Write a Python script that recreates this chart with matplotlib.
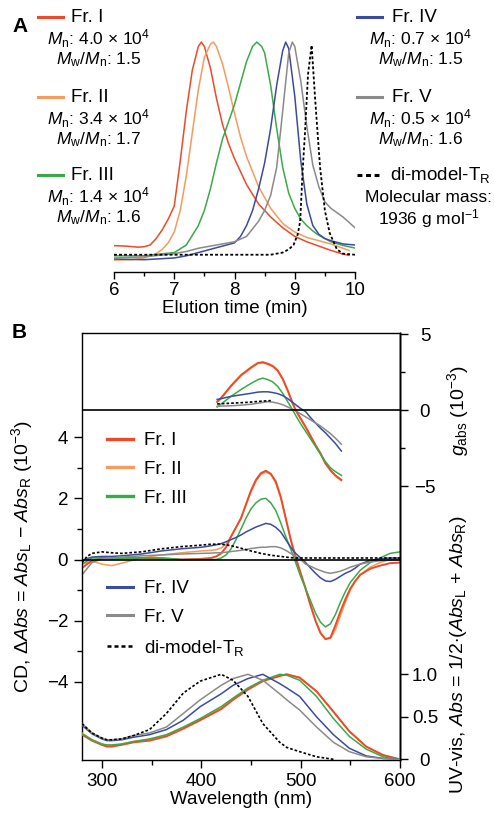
import matplotlib.pyplot as plt
from matplotlib.lines import Line2D
from matplotlib.ticker import FixedLocator, MultipleLocator
import numpy as np

plt.rcParams['font.family'] = ['Liberation Sans', 'DejaVu Sans']
plt.rcParams['mathtext.fontset'] = 'custom'
plt.rcParams['mathtext.rm'] = 'Liberation Sans'
plt.rcParams['mathtext.it'] = 'Liberation Sans:italic'
plt.rcParams['mathtext.bf'] = 'Liberation Sans:bold'
plt.rcParams['axes.linewidth'] = 1.0

c_I = '#ee4a28'
c_II = '#f79a5c'
c_III = '#3aaa48'
c_IV = '#3b4b9f'
c_V = '#8a8a8a'
c_di = 'black'

# ---- A: SEC traces (normalised)
t_I = [6.0, 6.2, 6.4, 6.5, 6.6, 6.7, 6.8, 6.9, 7.0, 7.1, 7.2, 7.3, 7.4, 7.45, 7.5, 7.6, 7.7, 7.8, 7.9, 8.0,
       8.2, 8.4, 8.6, 8.8, 9.0, 9.2, 9.4, 9.6, 9.8, 9.9]
sec_I = [0.057, 0.055, 0.05, 0.052, 0.06, 0.09, 0.13, 0.18, 0.24, 0.45, 0.68, 0.87, 0.98, 1.0, 0.98, 0.88,
         0.74, 0.62, 0.53, 0.46, 0.34, 0.25, 0.19, 0.14, 0.10, 0.075, 0.055, 0.035, 0.018, 0.012]
t_II = [6.0, 6.3, 6.5, 6.7, 6.8, 6.9, 7.0, 7.1, 7.2, 7.3, 7.4, 7.5, 7.6, 7.65, 7.7, 7.8, 7.9, 8.0, 8.1, 8.2,
        8.4, 8.6, 8.8, 9.0, 9.2, 9.4, 9.6, 9.8, 9.9]
sec_II = [-0.01, -0.008, 0.0, 0.02, 0.04, 0.07, 0.12, 0.22, 0.38, 0.58, 0.78, 0.93, 0.99, 1.0, 0.98, 0.9,
          0.79, 0.67, 0.56, 0.47, 0.33, 0.23, 0.16, 0.12, 0.095, 0.08, 0.065, 0.045, 0.035]
t_III = [6.0, 6.5, 7.0, 7.2, 7.4, 7.5, 7.6, 7.7, 7.8, 7.9, 8.0, 8.1, 8.2, 8.3, 8.37, 8.45, 8.5, 8.6, 8.7,
         8.8, 8.9, 9.0, 9.1, 9.2, 9.3, 9.4, 9.6, 9.8, 10.0]
sec_III = [0.01, 0.01, 0.025, 0.06, 0.15, 0.22, 0.32, 0.44, 0.55, 0.63, 0.71, 0.81, 0.91, 0.98, 1.0, 0.98,
           0.95, 0.8, 0.6, 0.42, 0.3, 0.23, 0.18, 0.15, 0.125, 0.105, 0.075, 0.058, 0.046]
t_IV = [6.0, 6.5, 7.0, 7.2, 7.4, 7.6, 7.8, 8.0, 8.1, 8.2, 8.3, 8.4, 8.5, 8.6, 8.7, 8.8, 8.85, 8.9, 9.0,
        9.1, 9.2, 9.3, 9.4, 9.5, 9.6, 9.8, 10.0]
sec_IV = [-0.005, -0.008, 0.0, 0.01, 0.025, 0.04, 0.055, 0.07, 0.1, 0.15, 0.22, 0.32, 0.44, 0.6, 0.8, 0.96,
          1.0, 0.97, 0.75, 0.45, 0.25, 0.15, 0.11, 0.09, 0.08, 0.065, 0.06]
t_V = [6.0, 6.5, 7.0, 7.2, 7.4, 7.6, 7.8, 8.0, 8.2, 8.4, 8.5, 8.6, 8.7, 8.8, 8.9, 8.96, 9.0, 9.1, 9.2,
       9.3, 9.4, 9.5, 9.6, 9.8, 10.0]
sec_V = [0.0, 0.005, 0.02, 0.03, 0.045, 0.055, 0.065, 0.075, 0.1, 0.17, 0.22, 0.29, 0.42, 0.68, 0.95, 1.0,
         0.98, 0.82, 0.61, 0.43, 0.33, 0.26, 0.23, 0.19, 0.14]
t_di = [6.0, 8.6, 8.8, 8.9, 8.98, 9.05, 9.09, 9.13, 9.17, 9.22, 9.28, 9.34, 9.42, 9.5, 9.58, 9.7, 9.8, 10.0]
sec_di = [0.015, 0.015, 0.025, 0.04, 0.06, 0.11, 0.17, 0.4, 0.58, 0.85, 0.985, 0.73, 0.42, 0.22, 0.115,
          0.04, 0.02, 0.015]

# ---- B: CD spectra (10^-3)
wl_cd = [280, 285, 290, 300, 310, 320, 340, 360, 380, 400, 410, 415, 420, 425, 430, 435, 440, 445, 450, 455,
         460, 465, 470, 475, 480, 485, 490, 495, 500, 505, 510, 515, 520, 525, 530, 535, 540, 545, 550, 555,
         560, 570, 580, 590, 600]
cd_I = [-0.28, -0.15, -0.05, 0.05, 0.03, 0.05, 0.05, 0.04, 0.0, 0.02, 0.05, 0.1, 0.2, 0.4, 0.75, 1.05, 1.35,
        1.8, 2.25, 2.6, 2.82, 2.9, 2.8, 2.55, 2.05, 1.35, 0.65, 0.05, -0.45, -0.95, -1.5, -2.0, -2.4, -2.6,
        -2.55, -2.15, -1.7, -1.3, -0.95, -0.7, -0.5, -0.3, -0.2, -0.12, -0.1]
cd_II = [-0.15, -0.1, -0.05, -0.15, -0.2, -0.12, 0.05, 0.15, 0.22, 0.28, 0.3, 0.32, 0.38, 0.5, 0.75, 1.05,
         1.35, 1.78, 2.2, 2.55, 2.78, 2.85, 2.78, 2.5, 2.0, 1.35, 0.68, 0.1, -0.42, -0.95, -1.5, -2.0, -2.4,
         -2.6, -2.58, -2.3, -1.85, -1.4, -1.0, -0.72, -0.5, -0.25, -0.1, 0.0, 0.05]
cd_III = [-0.15, -0.05, 0.05, 0.05, 0.04, 0.03, 0.05, 0.05, 0.0, 0.0, 0.0, 0.0, 0.05, 0.15, 0.35, 0.65, 1.0,
          1.35, 1.65, 1.85, 1.97, 2.0, 1.85, 1.6, 1.2, 0.75, 0.35, -0.1, -0.55, -0.95, -1.35, -1.75, -2.05,
          -2.2, -2.1, -1.8, -1.4, -1.05, -0.75, -0.55, -0.35, -0.1, 0.05, 0.2, 0.25]
cd_IV = [-0.05, 0.03, 0.08, 0.1, 0.1, 0.12, 0.18, 0.28, 0.35, 0.4, 0.45, 0.48, 0.52, 0.58, 0.65, 0.72, 0.8,
         0.9, 0.98, 1.06, 1.12, 1.18, 1.15, 1.05, 0.9, 0.65, 0.4, 0.2, 0.05, -0.1, -0.28, -0.45, -0.6, -0.7,
         -0.72, -0.65, -0.55, -0.45, -0.38, -0.28, -0.15, -0.03, 0.02, 0.05, 0.05]
cd_V = [-0.5, -0.3, -0.1, 0.02, 0.05, 0.08, 0.12, 0.15, 0.18, 0.2, 0.21, 0.22, 0.22, 0.24, 0.26, 0.28, 0.3,
        0.33, 0.36, 0.38, 0.4, 0.4, 0.42, 0.42, 0.38, 0.3, 0.2, 0.1, 0.0, -0.15, -0.22, -0.3, -0.36, -0.42,
        -0.45, -0.42, -0.38, -0.32, -0.25, -0.2, -0.15, -0.08, -0.04, -0.02, 0.0]
cd_di = [-0.1, 0.1, 0.2, 0.25, 0.22, 0.2, 0.25, 0.35, 0.42, 0.47, 0.5, 0.5, 0.5, 0.48, 0.45, 0.41, 0.37,
         0.32, 0.28, 0.24, 0.2, 0.17, 0.14, 0.12, 0.1, 0.08, 0.06, 0.05, 0.05, 0.05, 0.05, 0.05, 0.05, 0.05,
         0.05, 0.05, 0.05, 0.05, 0.05, 0.05, 0.05, 0.05, 0.05, 0.05, 0.05]

# ---- B: g_abs (10^-3)
wl_g = [416, 420, 430, 440, 445, 450, 457, 462, 467, 472, 477, 482, 487, 492, 495, 500, 505, 510, 515, 520,
        525, 530, 535, 541]
g_I = [0.55, 0.8, 1.6, 2.3, 2.55, 2.8, 3.1, 3.15, 3.05, 2.9, 2.6, 2.05, 1.3, 0.45, 0.0, -0.55, -1.1, -1.7,
       -2.3, -2.85, -3.5, -3.95, -4.3, -4.6]
g_II = [0.5, 0.75, 1.55, 2.25, 2.5, 2.75, 3.05, 3.1, 3.0, 2.85, 2.55, 2.0, 1.25, 0.4, -0.05, -0.6, -1.15,
        -1.75, -2.35, -2.9, -3.55, -4.0, -4.35, -4.65]
g_III = [0.2, 0.4, 0.9, 1.35, 1.55, 1.75, 2.0, 2.1, 2.0, 1.85, 1.55, 1.1, 0.55, 0.0, -0.35, -0.9, -1.4, -1.9,
         -2.4, -2.9, -3.4, -3.8, -4.05, -4.3]
g_IV = [0.7, 0.75, 0.9, 1.0, 1.05, 1.1, 1.18, 1.2, 1.2, 1.15, 1.08, 0.95, 0.75, 0.5, 0.35, 0.1, -0.1, -0.5,
        -0.85, -1.2, -1.5, -1.85, -2.2, -2.7]
g_V = [0.25, 0.26, 0.28, 0.32, 0.35, 0.38, 0.45, 0.5, 0.55, 0.52, 0.45, 0.35, 0.2, 0.05, -0.05, -0.25, -0.45,
       -0.65, -0.85, -1.05, -1.3, -1.55, -1.85, -2.25]
wl_g_di = [416, 430, 445, 460, 470]
g_di = [0.4, 0.45, 0.5, 0.58, 0.62]

# ---- B: UV-vis (normalised)
wl_uv = [280, 290, 300, 305, 310, 320, 332, 348, 365, 382, 399, 420, 432, 447, 462, 479, 486, 499, 516, 533,
         549, 566, 583, 600]
uv_I = [0.29, 0.22, 0.17, 0.15, 0.15, 0.17, 0.2, 0.22, 0.27, 0.36, 0.46, 0.59, 0.7, 0.82, 0.92, 0.98, 1.0,
        0.96, 0.8, 0.56, 0.33, 0.15, 0.05, 0.0]
uv_II = [0.31, 0.23, 0.18, 0.16, 0.16, 0.18, 0.21, 0.23, 0.28, 0.37, 0.47, 0.6, 0.71, 0.83, 0.93, 0.985, 1.0,
         0.965, 0.8, 0.56, 0.33, 0.15, 0.05, 0.0]
uv_III = [0.3, 0.23, 0.18, 0.17, 0.17, 0.18, 0.21, 0.24, 0.29, 0.38, 0.48, 0.62, 0.72, 0.84, 0.93, 1.0, 0.99,
          0.93, 0.74, 0.48, 0.27, 0.12, 0.03, 0.0]
uv_IV = [0.4, 0.3, 0.24, 0.22, 0.22, 0.23, 0.26, 0.29, 0.35, 0.46, 0.62, 0.77, 0.87, 0.95, 1.0, 0.89, 0.84,
         0.74, 0.5, 0.29, 0.13, 0.04, 0.01, 0.0]
uv_V = [0.42, 0.31, 0.25, 0.23, 0.23, 0.24, 0.28, 0.31, 0.38, 0.54, 0.7, 0.87, 0.95, 1.0, 0.93, 0.77, 0.7,
        0.58, 0.38, 0.2, 0.09, 0.03, 0.01, 0.0]
uv_di = [0.42, 0.31, 0.25, 0.23, 0.23, 0.24, 0.28, 0.35, 0.54, 0.78, 0.92, 1.0, 0.93, 0.74, 0.42, 0.2, 0.14,
         0.09, 0.03, 0.0]

names = ['Fr. I', 'Fr. II', 'Fr. III', 'Fr. IV', 'Fr. V']
mn_labels = ['4.0', '3.4', '1.4', '0.7', '0.5']
pdi_labels = ['1.5', '1.7', '1.6', '1.5', '1.6']

W, H = 494, 816
def fx(x):
    return x / W
def fy(y):
    return 1 - y / H

fig = plt.figure(figsize=(W / 100, H / 100), dpi=100)
dots = (0, (1.6, 1.2))

# ================= panel A
axA = fig.add_axes([fx(114), fy(272), fx(355) - fx(114), fy(30) - fy(272)])
for t, s, c in zip([t_I, t_II, t_III, t_IV, t_V], [sec_I, sec_II, sec_III, sec_IV, sec_V],
                   [c_I, c_II, c_III, c_IV, c_V]):
    axA.plot(t, s, color=c, lw=1.1)
axA.plot(t_di, sec_di, color=c_di, lw=1.3, ls=dots)
axA.set_xlim(6, 10)
axA.set_ylim(-0.065, 1.056)
for sp in ['left', 'right', 'top']:
    axA.spines[sp].set_visible(False)
axA.set_yticks([])
axA.xaxis.set_major_locator(MultipleLocator(1))
axA.xaxis.set_minor_locator(MultipleLocator(0.5))
axA.tick_params(axis='x', which='major', length=5, width=1, labelsize=13.5, pad=2)
axA.tick_params(axis='x', which='minor', length=3, width=1)
axA.set_xlabel('Elution time (min)', fontsize=13.5, labelpad=1)
axA.patch.set_visible(False)

fig.text(fx(20), fy(26), 'A', fontsize=15, fontweight='bold', ha='center', va='center')

def entry(xl, xt, xc, y, name, color, ls, mn=None, pdi=None):
    fig.add_artist(Line2D([fx(xl), fx(xl + 25)], [fy(y), fy(y)], color=color, lw=2.2, ls=ls))
    fig.text(fx(xt), fy(y), name, fontsize=13.5, ha='left', va='center')
    if mn is not None:
        fig.text(fx(xc), fy(y + 22), r'$M_{\rm n}$: ' + mn + r' × 10$^{4}$', fontsize=12.5,
                 ha='center', va='center')
        fig.text(fx(xc), fy(y + 43), r'$M_{\rm w}$/$M_{\rm n}$: ' + pdi, fontsize=12.5,
                 ha='center', va='center')

cols = [c_I, c_II, c_III, c_IV, c_V]
rows = [17, 97, 175]
for i in range(3):
    entry(38, 71, 99, rows[i], names[i], cols[i], '-', mn_labels[i], pdi_labels[i])
for i in range(3, 5):
    entry(357, 392, 421, rows[i - 3], names[i], cols[i], '-', mn_labels[i], pdi_labels[i])
entry(357, 390, 428, rows[2], r'di-model-T$_{\rm R}$', c_di, dots)
fig.text(fx(428), fy(198), 'Molecular mass:', fontsize=12.5, ha='center', va='center')
fig.text(fx(429), fy(219), r'1936 g mol$^{-1}$', fontsize=12.5, ha='center', va='center')

# ================= panel B
axB = fig.add_axes([fx(82), fy(760), fx(400) - fx(82), fy(333) - fy(760)])
axG = axB.twinx()
axU = axB.twinx()

lw_main = 1.1
axB.plot(wl_cd, cd_II, color=c_II, lw=lw_main)
axB.plot(wl_cd, cd_I, color=c_I, lw=1.4)
axB.plot(wl_cd, cd_III, color=c_III, lw=lw_main)
axB.plot(wl_cd, cd_IV, color=c_IV, lw=lw_main)
axB.plot(wl_cd, cd_V, color=c_V, lw=lw_main)
axB.plot(wl_cd, cd_di, color=c_di, lw=1.2, ls=dots)
axB.axhline(0, color='black', lw=1.2)

axG.plot(wl_g, g_II, color=c_II, lw=lw_main)
axG.plot(wl_g, g_I, color=c_I, lw=1.4)
axG.plot(wl_g, g_III, color=c_III, lw=lw_main)
axG.plot(wl_g, g_IV, color=c_IV, lw=lw_main)
axG.plot(wl_g, g_V, color=c_V, lw=lw_main)
axG.plot(wl_g_di, g_di, color=c_di, lw=1.2, ls=dots)
axG.axhline(0, color='black', lw=1.2)

axU.plot(wl_uv, uv_II, color=c_II, lw=lw_main)
axU.plot(wl_uv, uv_I, color=c_I, lw=1.4)
axU.plot(wl_uv, uv_III, color=c_III, lw=lw_main)
axU.plot(wl_uv, uv_IV, color=c_IV, lw=lw_main)
axU.plot(wl_uv, uv_V, color=c_V, lw=lw_main)
axU.plot(wl_uv[:len(uv_di)], uv_di, color=c_di, lw=1.2, ls=dots)

axB.set_xlim(280, 600)
axB.set_ylim(-6.55, 7.40)
axG.set_ylim(-23.03, 5.07)
axU.set_ylim(-0.008, 5.015)

axB.xaxis.set_major_locator(FixedLocator([300, 400, 500, 600]))
axB.xaxis.set_minor_locator(FixedLocator([350, 450, 550]))
axB.yaxis.set_major_locator(FixedLocator([-4, -2, 0, 2, 4]))
axB.yaxis.set_minor_locator(FixedLocator([-3, -1, 1, 3]))
axB.set_yticklabels(['\u22124', '\u22122', '0', '2', '4'])
axB.tick_params(which='major', length=6, width=1, labelsize=13.5)
axB.tick_params(which='minor', length=3.5, width=1)
axB.tick_params(axis='y', pad=4)
axB.tick_params(axis='x', pad=3)
axB.tick_params(right=False, which='both')

for a in (axG, axU):
    for sp in ['left', 'top', 'bottom']:
        a.spines[sp].set_visible(False)
    a.tick_params(axis='y', which='major', length=6, width=1, labelsize=13.5, pad=12)
    a.tick_params(axis='y', which='minor', length=3.5, width=1)

axG.yaxis.set_major_locator(FixedLocator([-5, 0, 5]))
axG.yaxis.set_minor_locator(FixedLocator([-2.5, 2.5]))
axG.set_yticklabels(['\u22125', '0', '5'])
axU.yaxis.set_major_locator(FixedLocator([0, 0.5, 1.0]))
axU.yaxis.set_minor_locator(FixedLocator([]))
axU.set_yticklabels(['0', '0.5', '1.0'])
for a in (axG, axU):
    for lab in a.get_yticklabels():
        lab.set_horizontalalignment('center')

axB.set_xlabel('Wavelength (nm)', fontsize=13.5, labelpad=1)

fig.text(fx(22), fy(556), r'CD, $\Delta$$Abs$ = $Abs$$_{\rm L}$ $-$ $Abs$$_{\rm R}$ (10$^{-3}$)',
         fontsize=14, rotation=90, ha='center', va='center')
fig.text(fx(458), fy(411), r'$g_{\rm abs}$ (10$^{-3}$)', fontsize=14, rotation=90,
         ha='center', va='center')
fig.text(fx(458), fy(655), r'UV-vis, $Abs$ = 1/2$\cdot$($Abs$$_{\rm L}$ + $Abs$$_{\rm R}$)',
         fontsize=14, rotation=90, ha='center', va='center')
fig.text(fx(19), fy(333), 'B', fontsize=15, fontweight='bold', ha='center', va='center')

h1 = [Line2D([], [], color=c, lw=2.4) for c in (c_I, c_II, c_III)]
leg1 = axB.legend(h1, names[:3], loc='upper left', bbox_to_anchor=((107 - 82) / 318, 1 - (432 - 333) / 427),
                  frameon=False, fontsize=13.5, handlelength=1.4, handletextpad=0.55, labelspacing=0.62,
                  borderaxespad=0, borderpad=0)
axB.add_artist(leg1)
h2 = [Line2D([], [], color=c_IV, lw=2.2), Line2D([], [], color=c_V, lw=2.2),
      Line2D([], [], color=c_di, lw=1.8, ls=dots)]
axB.legend(h2, names[3:] + [r'di-model-T$_{\rm R}$'], loc='upper left',
           bbox_to_anchor=((107 - 82) / 318, 1 - (580 - 333) / 427),
           frameon=False, fontsize=13.5, handlelength=1.4, handletextpad=0.55, labelspacing=0.62,
           borderaxespad=0, borderpad=0)

fig.savefig('out.png', dpi=100)
